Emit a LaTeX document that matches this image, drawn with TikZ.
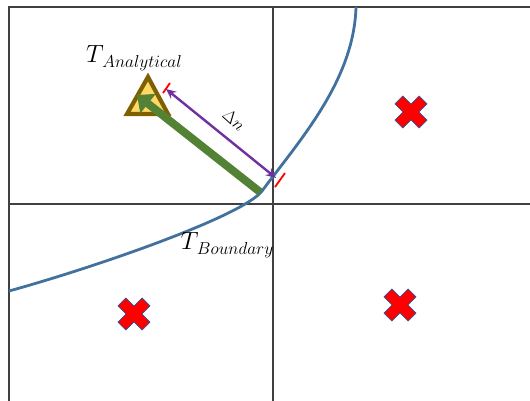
\documentclass[tikz,border=0pt]{standalone}
\usetikzlibrary{arrows.meta}
\definecolor{gridc}{HTML}{404040}
\definecolor{curvec}{HTML}{41719C}
\definecolor{greenc}{HTML}{548235}
\definecolor{purplec}{HTML}{7030A0}
\definecolor{trifill}{HTML}{FFD966}
\definecolor{tridraw}{HTML}{7F6000}
\definecolor{xblue}{HTML}{2F5597}
\newcommand{\tlabel}[1]{{\fontsize{23}{26}\selectfont$T$}\kern-1.5pt\raisebox{-5pt}{\fontsize{16.5}{19}\selectfont$#1$}}
\tikzset{
  gridline/.style={draw=gridc,line width=1.3pt},
  boundary/.style={draw=curvec,line width=2.8pt},
  tick/.style={draw=red,line width=1.8pt},
  lbl/.style={inner sep=0pt},
  xmark/.pic={\filldraw[fill=red,draw=xblue,line width=0.7pt,rotate=45]
     (-5.5,-17)--(5.5,-17)--(5.5,-5.5)--(17,-5.5)--(17,5.5)--(5.5,5.5)--(5.5,17)--(-5.5,17)--(-5.5,5.5)--(-17,5.5)--(-17,-5.5)--(-5.5,-5.5)--cycle;}
}
\begin{document}
\begin{tikzpicture}[x=1pt,y=-1pt]
\useasboundingbox (0,0) rectangle (530,401);
% frame and axes
\coordinate (tl) at (9,7);
\coordinate (tr) at (530,7);
\coordinate (bl) at (9,401);
\coordinate (vt) at (273,7);
\coordinate (vb) at (273,401);
\coordinate (hl) at (9,204);
\coordinate (hr) at (530,204);
\draw[gridline] (bl) -- (tl) -- (tr);
\draw[gridline] (vt) -- (vb);
\draw[gridline] (hl) -- (hr);
% boundary curve
\coordinate (c0) at (356,7);
\coordinate (c1) at (262,191);
\coordinate (c2) at (9,291);
\draw[boundary] (c0) .. controls (354,80) and (300,140) .. (c1)
                     .. controls (243,216) and (96,267) .. (c2);
% triangle
\coordinate (ta) at (148,77);
\coordinate (tb) at (127,114);
\coordinate (tc) at (168,114);
\filldraw[fill=trifill,draw=tridraw,line width=4.2pt,line join=miter] (ta) -- (tb) -- (tc) -- cycle;
% green arrow
\coordinate (gs) at (260,192);
\coordinate (ge) at (137,95);
\draw[draw=greenc,fill=greenc,line width=8pt,-{Triangle[length=14pt,width=24pt]}] (gs) -- (ge);
% purple double arrow
\coordinate (pa) at (166,89);
\coordinate (pb) at (276,178);
\draw[draw=purplec,line width=2.4pt,{Stealth[length=10pt,width=9pt]}-{Stealth[length=10pt,width=9pt]}] (pa) -- (pb);
% red ticks
\coordinate (t1a) at (163,93);
\coordinate (t1b) at (170,83);
\coordinate (t2a) at (275,187);
\coordinate (t2b) at (285,173);
\draw[tick] (t1a) -- (t1b);
\draw[tick] (t2a) -- (t2b);
% labels
\node[lbl] (ana) at (134,58) {\tlabel{Analytical}};
\node[lbl] (bnd) at (227,245) {\tlabel{Boundary}};
\node[font=\fontsize{17}{20}\selectfont,rotate=-42,inner sep=0pt] (dn) at (234,120) {$\Delta n$};
% crosses
\pic at (411,112) {xmark};
\pic at (134,314) {xmark};
\pic at (400,305) {xmark};
\end{tikzpicture}
\end{document}
